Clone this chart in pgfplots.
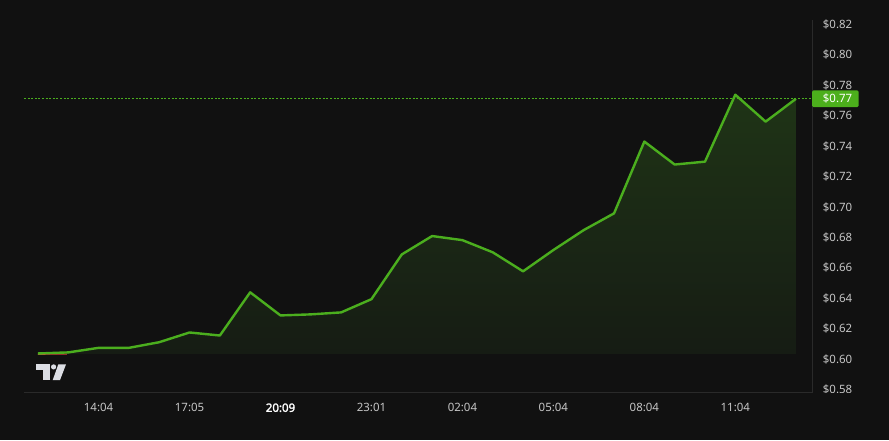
\documentclass[border=0pt]{standalone}
\usepackage{fontspec}
\setmainfont{Noto Sans}
\newfontfamily\heavylbl{Noto Sans}[FakeBold=2.2]
\usepackage{pgfplots}
\usepackage{pgfplotstable}
\pgfplotsset{compat=1.18}

\definecolor{bg}{HTML}{111111}
\definecolor{upgreen}{HTML}{4BAE1E}
\definecolor{badge}{HTML}{4CAF1C}
\definecolor{frame}{HTML}{2A2A2A}
\definecolor{ticktext}{HTML}{C6C6C6}
\definecolor{fillTop}{HTML}{1F3416}
\definecolor{fillBot}{HTML}{161C14}
\definecolor{downred}{HTML}{D8403A}
\definecolor{logo}{HTML}{DCDEE4}

% hourly closing price
\pgfplotstableread{
idx price
0 0.6037
1 0.6044
2 0.6074
3 0.6074
4 0.6111
5 0.6175
6 0.6155
7 0.6439
8 0.6287
9 0.6294
10 0.6307
11 0.6394
12 0.6688
13 0.6809
14 0.6782
15 0.6702
16 0.6577
17 0.6717
18 0.6848
19 0.6958
20 0.7430
21 0.7279
22 0.7298
23 0.7738
24 0.7561
25 0.7711
}\pricedata

% area under the price line, closed down to the opening level
\pgfplotstableread{
idx price
0 0.6035
0 0.6037
1 0.6044
2 0.6074
3 0.6074
4 0.6111
5 0.6175
6 0.6155
7 0.6439
8 0.6287
9 0.6294
10 0.6307
11 0.6394
12 0.6688
13 0.6809
14 0.6782
15 0.6702
16 0.6577
17 0.6717
18 0.6848
19 0.6958
20 0.7430
21 0.7279
22 0.7298
23 0.7738
24 0.7561
25 0.7711
25 0.6035
}\areadata

\newcommand{\lblfont}{\fontsize{11.5}{13}\selectfont}

\begin{document}
\begin{tikzpicture}[x=1bp,y=1bp]
\fill[bg] (0,0) rectangle (889,440);
\begin{axis}[
  at={(24bp,48bp)}, anchor=south west,
  scale only axis, width=788bp, height=392bp,
  xmin=-0.46, xmax=25.53, ymin=0.5783, ymax=0.8360,
  axis line style={draw=none},
  major tick length=0pt,
  clip=false,
  xtick={2,5,8,11,14,17,20,23},
  xticklabels={14:04,17:05,{\textcolor{white}{\heavylbl 20:09}},23:01,02:04,05:04,08:04,11:04},
  xticklabel style={anchor=base, inner sep=0pt, yshift=-19.7bp, font=\lblfont, text=ticktext},
  ytick={0.58,0.60,0.62,0.64,0.66,0.68,0.70,0.72,0.74,0.76,0.78,0.80,0.82},
  yticklabel pos=right,
  scaled y ticks=false,
  yticklabel={\$\pgfmathprintnumber[fixed,fixed zerofill,precision=2,assume math mode=true]{\tick}},
  yticklabel style={anchor=base west, inner sep=0pt, xshift=10.7bp, yshift=-4.1bp, font=\lblfont, text=ticktext},
]
% chart frame: bottom and right edges
\draw[frame, line width=1bp] (rel axis cs:0,0) -- (rel axis cs:1,0) -- (rel axis cs:1,0.949);

% shaded area
\addplot[draw=none, top color=fillTop, bottom color=fillBot] table[x=idx,y=price] {\areadata} -- cycle;

% last price guide
\addplot[upgreen, line width=0.9bp, dash pattern=on 2bp off 1.6bp] coordinates {(-0.46,0.7711) (25.53,0.7711)};

% short dip below the opening level
\addplot[downred, line width=0.9bp] coordinates {(0,0.6031) (0.95,0.6033)};

% price line
\addplot[upgreen, line width=2.4bp, line join=round] table[x=idx,y=price] {\pricedata};

% last price badge
\fill[badge, rounded corners=1.5bp] ([yshift=-8.35bp]axis cs:25.53,0.7711) rectangle ++(46.7bp,16.7bp);
\node[anchor=base west, inner sep=0pt, xshift=10.7bp, yshift=-4.1bp, font=\lblfont, text=white] at (axis cs:25.53,0.7711) {\$0.77};
\end{axis}
% trim the lowest price label at the chart bottom
\fill[bg] (812.5,0) rectangle (889,47.5);
% logo
\fill[logo] (36,70) rectangle (50,75.7);
\fill[logo] (42.7,60) rectangle (50,75.7);
\fill[logo] (53.6,73.2) circle (2.6);
\fill[logo] (58.3,75.7) -- (66,75.7) -- (60,60) -- (52.7,60) -- cycle;
\end{tikzpicture}
\end{document}
